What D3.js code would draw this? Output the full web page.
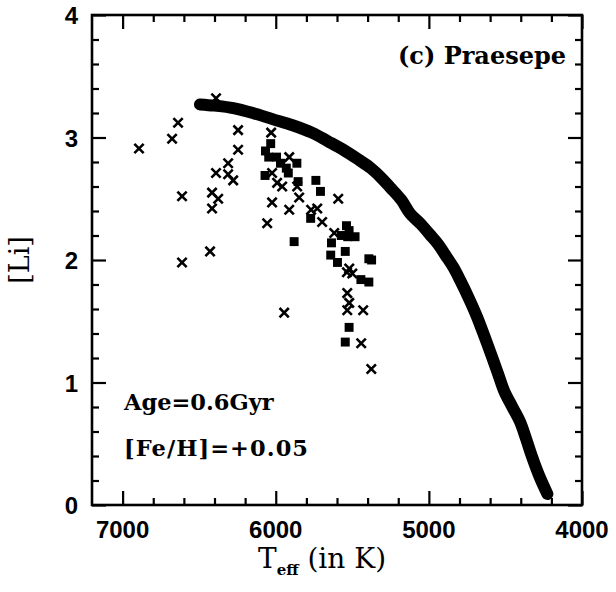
<!DOCTYPE html>
<html>
<head>
<meta charset="utf-8">
<script src="https://cdn.jsdelivr.net/npm/d3@7"></script>
<style>
  body { margin: 0; background: #fff; }
</style>
</head>
<body>
<div id="chart"></div>
<script>
// model curve (thick band)
var modelTeff = [6495, 6400, 6277, 6150, 6021, 5890, 5764, 5660, 5559, 5460, 5379, 5310, 5251, 5180, 5123, 5050, 4995, 4940, 4892, 4840, 4790, 4740, 4687, 4635, 4585, 4545, 4508, 4455, 4405, 4365, 4328, 4280, 4226];
var modelLi   = [3.27, 3.26, 3.24, 3.20, 3.15, 3.10, 3.04, 2.97, 2.90, 2.82, 2.75, 2.67, 2.59, 2.49, 2.38, 2.29, 2.21, 2.13, 2.04, 1.94, 1.82, 1.69, 1.54, 1.37, 1.20, 1.06, 0.93, 0.80, 0.68, 0.54, 0.40, 0.24, 0.09];

// observed stars, crosses
var crossTeff = [6893, 6677, 6638, 6612, 6612, 6390, 6429, 6416, 6416, 6376, 6390, 6311, 6311, 6278, 6246, 6246,
                 6030, 6024, 6024, 6056, 5991, 5958, 5912, 5912, 5945, 5860, 5847, 5769, 5729, 5697, 5592, 5618,
                 5520, 5500, 5535, 5533, 5520, 5533, 5429, 5442, 5376];
var crossLi   = [2.91, 2.99, 3.12, 2.52, 1.98, 3.32, 2.07, 2.55, 2.42, 2.50, 2.71, 2.79, 2.70, 2.65, 3.06, 2.90,
                 3.04, 2.71, 2.47, 2.30, 2.63, 2.60, 2.84, 2.41, 1.57, 2.60, 2.51, 2.41, 2.42, 2.31, 2.50, 2.22,
                 1.93, 1.89, 1.90, 1.73, 1.65, 1.59, 1.59, 1.32, 1.11];

// observed stars, filled squares
var squareTeff = [6067, 6033, 6046, 5995, 5969, 5931, 5918, 6070, 5862, 5854, 5738, 5708, 5772, 5880,
                  5538, 5521, 5572, 5482, 5530, 5636, 5546, 5641, 5597, 5392, 5374, 5444, 5392, 5521, 5546];
var squareLi   = [2.89, 2.95, 2.84, 2.84, 2.79, 2.75, 2.71, 2.69, 2.79, 2.64, 2.65, 2.56, 2.34, 2.15,
                  2.28, 2.24, 2.20, 2.19, 2.19, 2.14, 2.07, 2.04, 1.98, 2.01, 2.00, 1.84, 1.82, 1.45, 1.33];

var xMajor = [7000, 6000, 5000, 4000];
var xMinor = [6800, 6600, 6400, 6200, 5800, 5600, 5400, 5200, 4800, 4600, 4400, 4200];
var yMajor = [0, 1, 2, 3, 4];
var yMinor = [0.2, 0.4, 0.6, 0.8, 1.2, 1.4, 1.6, 1.8, 2.2, 2.4, 2.6, 2.8, 3.2, 3.4, 3.6, 3.8];

var margin = {top: 15, right: 34, bottom: 87, left: 92},
    width = 616 - margin.left - margin.right,
    height = 592 - margin.top - margin.bottom;

var svg = d3.select("#chart").append("svg")
    .attr("width", 616)
    .attr("height", 592);

var g = svg.append("g")
    .attr("transform", "translate(" + margin.left + "," + margin.top + ")");

var x = d3.scaleLinear().domain([7200, 4000]).range([0, width]);
var y = d3.scaleLinear().domain([0, 4]).range([height, 0]);

var majorLen = 14, minorLen = 7;

function tickAxis(axisFn, scale, vals, len, tr) {
  var a = g.append("g")
      .attr("transform", tr)
      .call(axisFn(scale).tickValues(vals).tickSize(-len).tickFormat(""));
  a.select(".domain").remove();
  a.selectAll("line").attr("stroke", "#000").attr("stroke-width", 2.2);
  return a;
}

tickAxis(d3.axisBottom, x, xMajor, majorLen, "translate(0," + height + ")");
tickAxis(d3.axisBottom, x, xMinor, minorLen, "translate(0," + height + ")");
tickAxis(d3.axisTop, x, xMajor, majorLen, "translate(0,0)");
tickAxis(d3.axisTop, x, xMinor, minorLen, "translate(0,0)");
tickAxis(d3.axisLeft, y, yMajor, majorLen, "translate(0,0)");
tickAxis(d3.axisLeft, y, yMinor, minorLen, "translate(0,0)");
tickAxis(d3.axisRight, y, yMajor, majorLen, "translate(" + width + ",0)");
tickAxis(d3.axisRight, y, yMinor, minorLen, "translate(" + width + ",0)");

// frame
g.append("rect")
    .attr("width", width)
    .attr("height", height)
    .attr("fill", "none")
    .attr("stroke", "#000")
    .attr("stroke-width", 2.6);

// tick labels
g.append("g")
    .attr("font-family", "Liberation Sans, Arial, sans-serif")
    .attr("font-weight", "bold")
    .attr("font-size", 24)
    .attr("text-anchor", "middle")
  .selectAll("text")
  .data(xMajor)
  .enter().append("text")
    .attr("x", function(d) { return x(d); })
    .attr("y", height + 33)
    .text(function(d) { return d; });

g.append("g")
    .attr("font-family", "Liberation Sans, Arial, sans-serif")
    .attr("font-weight", "bold")
    .attr("font-size", 24)
    .attr("text-anchor", "end")
  .selectAll("text")
  .data(yMajor)
  .enter().append("text")
    .attr("x", -14)
    .attr("y", function(d) { return y(d); })
    .attr("dy", "0.38em")
    .text(function(d) { return d; });

// model band
var line = d3.line()
    .x(function(d) { return x(d[0]); })
    .y(function(d) { return y(d[1]); })
    .curve(d3.curveCatmullRom);

g.append("path")
    .datum(d3.zip(modelTeff, modelLi))
    .attr("d", line)
    .attr("fill", "none")
    .attr("stroke", "#000")
    .attr("stroke-width", 12)
    .attr("stroke-linecap", "round")
    .attr("stroke-linejoin", "round");

// squares
g.append("g")
  .selectAll("path")
  .data(d3.zip(squareTeff, squareLi))
  .enter().append("path")
    .attr("transform", function(d) { return "translate(" + x(d[0]) + "," + y(d[1]) + ")"; })
    .attr("d", d3.symbol().type(d3.symbolSquare).size(80))
    .attr("fill", "#000");

// crosses
g.append("g")
  .selectAll("path")
  .data(d3.zip(crossTeff, crossLi))
  .enter().append("path")
    .attr("transform", function(d) { return "translate(" + x(d[0]) + "," + y(d[1]) + ")"; })
    .attr("d", d3.symbol().type(d3.symbolX).size(58))
    .attr("fill", "none")
    .attr("stroke", "#000")
    .attr("stroke-width", 2.6);

// annotations
var serif = "DejaVu Serif, Liberation Serif, serif";

g.append("text")
    .attr("x", width - 16)
    .attr("y", 49)
    .attr("text-anchor", "end")
    .attr("font-family", serif)
    .attr("font-weight", "bold")
    .attr("font-size", 24)
    .text("(c) Praesepe");

g.append("text")
    .attr("x", 32)
    .attr("y", 395)
    .attr("font-family", serif)
    .attr("font-weight", "bold")
    .attr("font-size", 22.5)
    .text("Age=0.6Gyr");

g.append("text")
    .attr("x", 32)
    .attr("y", 441)
    .attr("font-family", serif)
    .attr("font-weight", "bold")
    .attr("font-size", 22.5)
    .attr("textLength", 184)
    .text("[Fe/H]=+0.05");

// axis titles
var xt = svg.append("text")
    .attr("x", 258)
    .attr("y", 568)
    .attr("font-family", serif)
    .attr("font-size", 28);
xt.append("tspan").text("T");
xt.append("tspan").attr("font-size", 15).attr("font-weight", "bold").attr("dy", 7).text("eff");
xt.append("tspan").attr("dy", -7).text(" (in K)");

svg.append("text")
    .attr("transform", "translate(29,260) rotate(-90)")
    .attr("text-anchor", "middle")
    .attr("font-family", serif)
    .attr("font-size", 27)
    .text("[Li]");
</script>
</body>
</html>
